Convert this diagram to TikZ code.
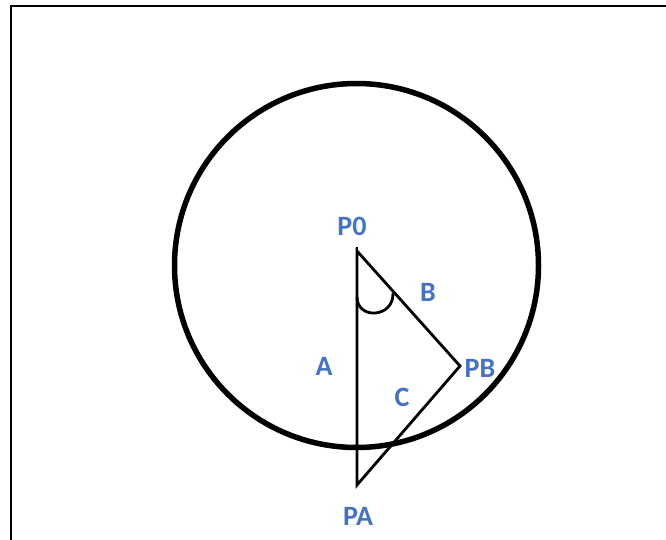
\documentclass[tikz,border=0pt]{standalone}
\usepackage{fontspec}
\setmainfont{Carlito}
\definecolor{lblblue}{HTML}{4472C4}
\begin{document}
\begin{tikzpicture}[x=1pt,y=-1pt,
  lbl/.style={text=lblblue,font=\fontsize{28}{30}\selectfont\bfseries,inner sep=0pt},
  thin line/.style={line width=2.8pt,line join=miter},
  frame line/.style={line width=2pt}]
\useasboundingbox (0,0) rectangle (666,540);
\draw[frame line] (11,540) -- (11,6) -- (666,6);
\draw[line width=5.5pt] (356.5,265.5) circle (182);
\coordinate (P0) at (357,251);
\coordinate (P0top) at (357,247);
\coordinate (PA) at (357,485);
\coordinate (PB) at (460,366);
\draw[thin line] (P0) -- (PA) -- (PB) -- cycle;
\draw[thin line] (P0top) -- (P0);
\draw[thin line] (357,297) .. controls (357,320) and (394,318) .. (393,293);
\node[lbl] (lP0) at (352,226) {P0};
\node[lbl] (lB) at (428,292) {B};
\node[lbl] (lA) at (324,366) {A};
\node[lbl] (lPB) at (480,368) {PB};
\node[lbl] (lC) at (402,397) {C};
\node[lbl] (lPA) at (358,516) {PA};
\end{tikzpicture}
\end{document}
